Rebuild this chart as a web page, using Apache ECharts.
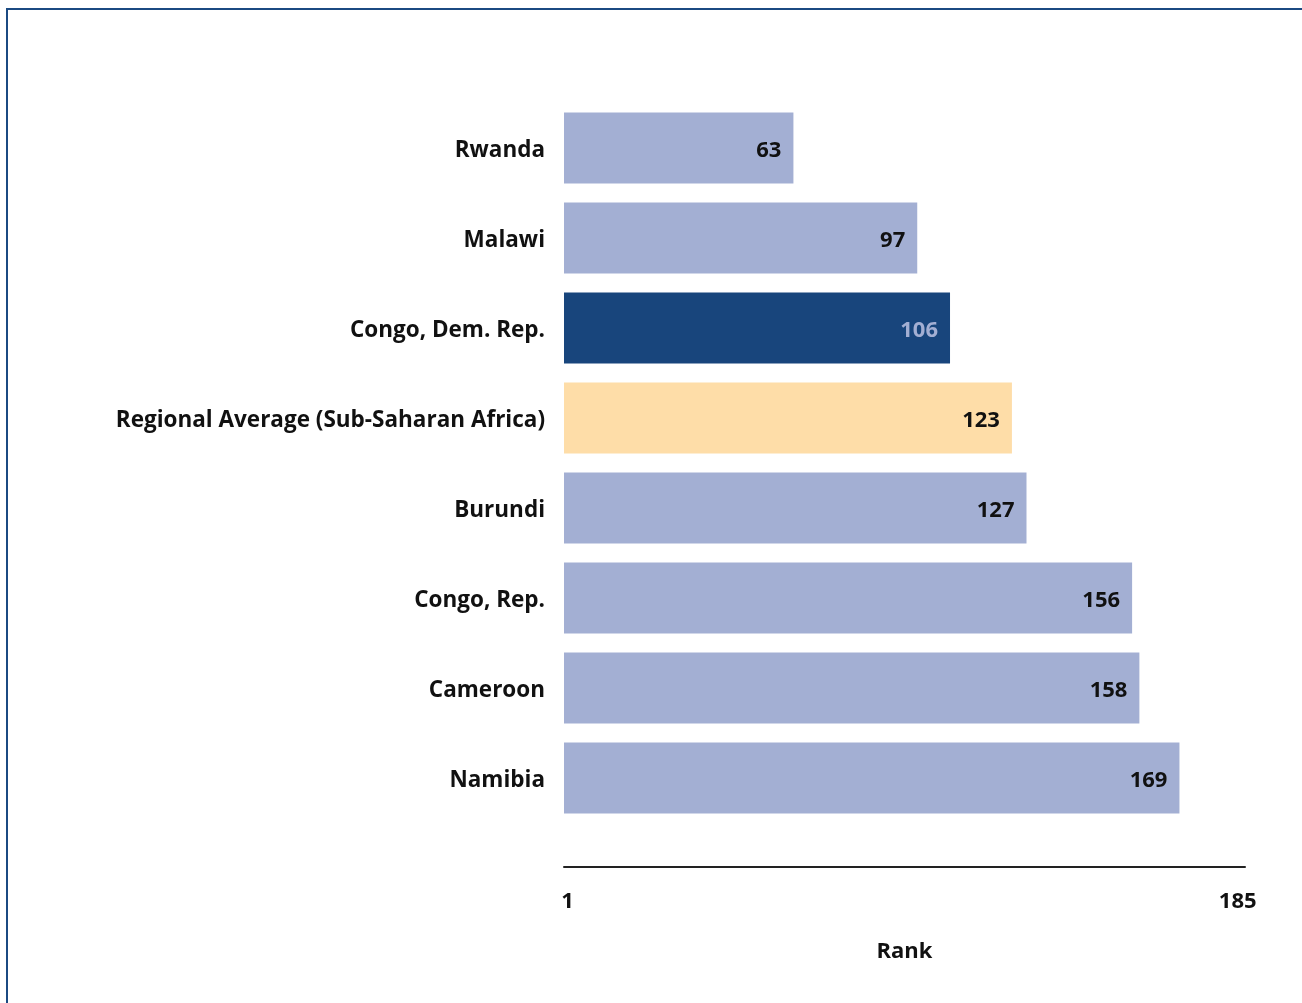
<!DOCTYPE html>
<html>
<head>
<meta charset="utf-8">
<script src="https://cdn.jsdelivr.net/npm/echarts@6/dist/echarts.min.js"></script>
<style>html,body{margin:0;padding:0;background:#fff;}#c{width:1302px;height:1003px;}</style>
</head>
<body>
<div id="c"></div>
<script>
const categories = ["Rwanda","Malawi","Congo, Dem. Rep.","Regional Average (Sub-Saharan Africa)","Burundi","Congo, Rep.","Cameroon","Namibia"];
const ranks = [63, 97, 106, 123, 127, 156, 158, 169];
const barColors = ["#a3afd3","#a3afd3","#18457c","#fedda8","#a3afd3","#a3afd3","#a3afd3","#a3afd3"];
const labelColors = ["#111","#111","#a3afd3","#111","#111","#111","#111","#111"];
const tickValues = [1, 185];
const axisName = "Rank";

const font = "'Open Sans', Lato, sans-serif";
const chart = echarts.init(document.getElementById('c'), null, {renderer: 'canvas'});
chart.setOption({
  animation: false,
  backgroundColor: '#fff',
  graphic: [
    {type: 'line', shape: {x1: 6, y1: 9, x2: 1302, y2: 9}, style: {stroke: '#1b4a82', lineWidth: 2}},
    {type: 'line', shape: {x1: 7, y1: 9, x2: 7, y2: 1003}, style: {stroke: '#1b4a82', lineWidth: 2}}
  ],
  grid: {left: 564, right: 57, top: 103, bottom: 180, containLabel: false},
  xAxis: {
    type: 'value', min: 0, max: 187, offset: 44,
    axisLine: {show: true, lineStyle: {color: '#222', width: 2}},
    axisTick: {show: false},
    splitLine: {show: false},
    axisLabel: {customValues: tickValues, color: '#111', fontFamily: font, fontWeight: 'bold', fontSize: 22, margin: 24},
    name: axisName, nameLocation: 'middle', nameGap: 74,
    nameTextStyle: {color: '#111', fontFamily: font, fontWeight: 'bold', fontSize: 22}
  },
  yAxis: {
    type: 'category', data: categories, inverse: true,
    axisLine: {show: false}, axisTick: {show: false},
    axisLabel: {
      margin: 19,
      formatter: v => '{a|' + v + '}',
      rich: {a: {color: '#111', fontFamily: font, fontWeight: 'bold', fontSize: 22.5, padding: [6, 0, 0, 0]}}
    }
  },
  series: [{
    type: 'bar',
    data: ranks.map((v, i) => ({value: v, itemStyle: {color: barColors[i]},
      label: {rich: {a: {color: labelColors[i], fontFamily: font, fontWeight: 'bold', fontSize: 22, padding: [6, 0, 0, 0]}}}})),
    barCategoryGap: '21%',
    label: {show: true, position: 'insideRight', distance: 12, formatter: p => '{a|' + p.value + '}'}
  }]
});
</script>
</body>
</html>
